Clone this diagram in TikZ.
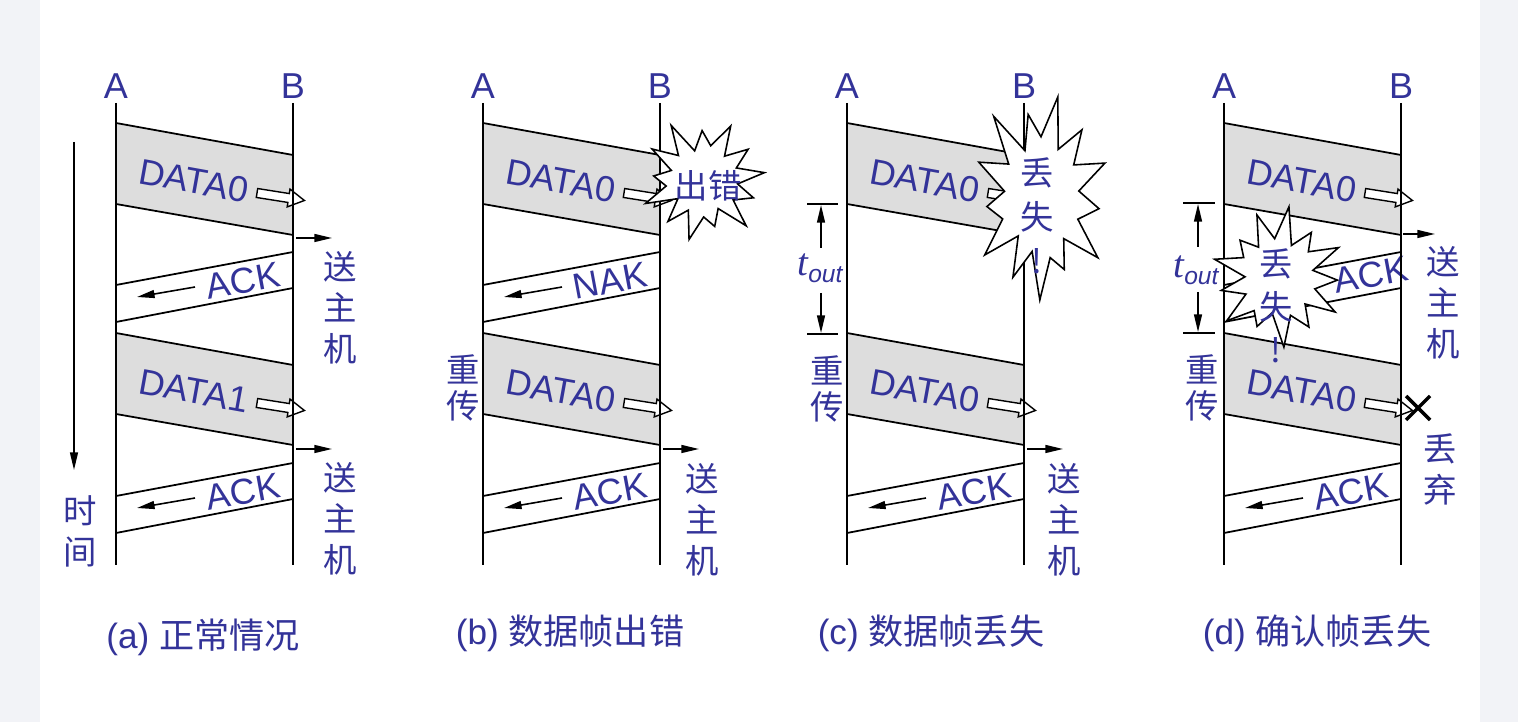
\documentclass[tikz,border=0pt]{standalone}
\usepackage{fontspec}
\setmainfont{Liberation Sans}
\newfontfamily\cjk{Noto Sans CJK SC}
\newfontfamily\tfont{Liberation Serif}
\usetikzlibrary{arrows.meta}

\begin{document}
\begin{tikzpicture}[x=0.02cm,y=-0.02cm,line cap=butt,
  >={Triangle[length=10pt,width=4.5pt]},
  lbl/.style={text=textblue,font=\fontsize{20.5}{24}\selectfont,inner sep=0pt},
  vlbl/.style={text=textblue,font=\cjk\fontsize{19}{23.3}\selectfont,align=center,inner sep=0pt},
  capt/.style={text=textblue,font=\fontsize{20}{24}\selectfont,inner sep=0pt},
  life/.style={line width=1pt},
  ptr/.style={->,line width=0.9pt},
  hollow/.style={draw,fill=white,line width=0.8pt,line join=miter},
  databand/.pic={
    \fill[framegray] (0,0) -- (177,32) -- (177,112) -- (0,81) -- cycle;
    \draw[life] (0,0) -- (177,32) (0,81) -- (177,112);
    \node[lbl,rotate=-10.2] (-t) at (78,58) {#1};
    \draw[hollow,shift={(141,70)},rotate=-9]
      (0,-4.5) -- (32,-4.5) -- (32,-9) -- (48,0) -- (32,9) -- (32,4.5) -- (0,4.5) -- cycle;
  },
  ackband/.pic={
    \draw[life] (0,0) -- (-177,33) (0,36) -- (-177,70);
    \draw[ptr] (-98,35) -- (-156,45);
    \node[lbl,rotate=10.5] (-t) at (-50,29) {#1};
  },
  burst/.pic={
    \draw[fill=white,line width=0.9pt,line join=miter]
      (0:1.0) -- (13:0.56) -- (27:0.86) -- (41:0.58) -- (55:1.02) -- (70:0.52)
      -- (84:0.78) -- (97:0.6) -- (111:1.0) -- (124:0.54) -- (138:0.88)
      -- (152:0.5) -- (166:1.0) -- (180:0.6) -- (194:0.8) -- (207:0.54)
      -- (221:0.98) -- (235:0.58) -- (249:1.06) -- (263:0.52) -- (277:0.84)
      -- (290:0.6) -- (304:1.02) -- (318:0.54) -- (332:0.9) -- (346:0.58) -- cycle;
  }]
  \definecolor{textblue}{RGB}{51,51,153}
  \definecolor{framegray}{RGB}{221,221,221}
  \definecolor{pagegray}{RGB}{242,243,247}

  % page
  \fill[pagegray] (0,0) rectangle (1518,722);
  \fill[white] (40,0) rectangle (1480,722);
  \useasboundingbox (0,0) rectangle (1518,722);

  % ---- (a) normal case ----
  \begin{scope}[shift={(116,0)}]
    \pic (a1) at (0,123) {databand=DATA0};
    \pic (a2) at (177,252) {ackband=ACK};
    \pic (a3) at (0,333) {databand=DATA1};
    \pic (a4) at (177,463) {ackband=ACK};
    \draw[life] (0,103) -- (0,565) (177,103) -- (177,565);
    \node[lbl] (aA) at (0,86) {A};
    \node[lbl] (aB) at (177,86) {B};
    \draw[ptr] (180,238) -- (216,238);
    \draw[ptr] (180,449) -- (216,449);
    \node[vlbl] (ahost1) at (224,308) {送\\主\\机};
    \node[vlbl] (ahost2) at (224,519) {送\\主\\机};
    % time axis
    \draw[->,line width=0.9pt] (-42,142) -- (-42,470);
    \node[vlbl] (atime) at (-36,531) {时\\间};
    \node[capt] (acap) at (87,637) {(a) {\cjk 正常情况}};
  \end{scope}

  % ---- (b) data frame error ----
  \begin{scope}[shift={(483,0)}]
    \pic (b1) at (0,123) {databand=DATA0};
    \pic (b2) at (177,252) {ackband=NAK};
    \pic (b3) at (0,333) {databand=DATA0};
    \pic (b4) at (177,463) {ackband=ACK};
    \draw[life] (0,103) -- (0,565) (177,103) -- (177,565);
    \node[lbl] (bA) at (0,86) {A};
    \node[lbl] (bB) at (177,86) {B};
    \pic[xscale=62,yscale=60,rotate=8] at (220,181) {burst};
    \node[vlbl] (berr) at (225,186) {出错};
    \node[vlbl,font=\cjk\fontsize{19}{20.4}\selectfont] (bre) at (-20,388) {重\\传};
    \draw[ptr] (180,449) -- (216,449);
    \node[vlbl] (bhost) at (219,520) {送\\主\\机};
    \node[capt] (bcap) at (87,633) {(b) {\cjk 数据帧出错}};
  \end{scope}

  % ---- (c) data frame lost ----
  \begin{scope}[shift={(847,0)}]
    \pic (c1) at (0,123) {databand=DATA0};
    \pic (c3) at (0,333) {databand=DATA0};
    \pic (c4) at (177,463) {ackband=ACK};
    \draw[life] (0,103) -- (0,565) (177,103) -- (177,565);
    \node[lbl] (cA) at (0,86) {A};
    \node[lbl] (cB) at (177,86) {B};
    \pic[xscale=68,yscale=102,rotate=20] at (194,198) {burst};
    \node[vlbl,font=\cjk\fontsize{19}{25}\selectfont] (clost) at (190,216) {丢\\失\\!};
    % timeout
    \draw[life] (-40,204) -- (-9,204) (-40,334) -- (-9,334);
    \draw[ptr] (-26,248) -- (-26,205);
    \draw[ptr] (-26,293) -- (-26,333);
    \node[text=textblue,inner sep=0pt] (cto) at (-27,268)
      {\fontsize{22}{22}\selectfont\tfont\itshape t\raisebox{-4pt}{\fontsize{14}{14}\selectfont\rmfamily\itshape out}};
    \node[vlbl,font=\cjk\fontsize{19}{20.4}\selectfont] (cre) at (-20,389) {重\\传};
    \draw[ptr] (180,449) -- (216,449);
    \node[vlbl] (chost) at (217,520) {送\\主\\机};
    \node[capt] (ccap) at (84,633) {(c) {\cjk 数据帧丢失}};
  \end{scope}

  % ---- (d) ack frame lost ----
  \begin{scope}[shift={(1224,0)}]
    \pic (d1) at (0,123) {databand=DATA0};
    \draw[life] (177,252) -- (0,285) (177,288) -- (0,322);
    \node[lbl,rotate=10.5] (dack) at (147,275) {ACK};
    \pic (d3) at (0,333) {databand=DATA0};
    \pic (d4) at (177,463) {ackband=ACK};
    \draw[life] (0,103) -- (0,565) (177,103) -- (177,565);
    \node[lbl] (dA) at (0,86) {A};
    \node[lbl] (dB) at (177,86) {B};
    \draw[ptr] (179,234) -- (211,234);
    \node[vlbl] (dhost) at (219,303) {送\\主\\机};
    % timeout
    \draw[life] (-41,203) -- (-9,203) (-41,333) -- (-9,333);
    \draw[ptr] (-26,247) -- (-26,204);
    \draw[ptr] (-26,292) -- (-26,332);
    \node[text=textblue,inner sep=0pt] (dto) at (-28,270)
      {\fontsize{22}{22}\selectfont\tfont\itshape t\raisebox{-4pt}{\fontsize{14}{14}\selectfont\rmfamily\itshape out}};
    \pic[xscale=66,yscale=68,rotate=-30] at (54,278) {burst};
    \node[vlbl,font=\cjk\fontsize{19}{24.4}\selectfont] (dlost) at (52,306) {丢\\失\\!};
    \node[vlbl,font=\cjk\fontsize{19}{20.4}\selectfont] (dre) at (-22,388) {重\\传};
    % discarded duplicate
    \draw[line width=2pt] (182,396) -- (206,420) (182,420) -- (206,396);
    \node[vlbl] (ddrop) at (216,469) {丢\\弃};
    \node[capt] (dcap) at (93,633) {(d) {\cjk 确认帧丢失}};
  \end{scope}
\end{tikzpicture}
\end{document}
